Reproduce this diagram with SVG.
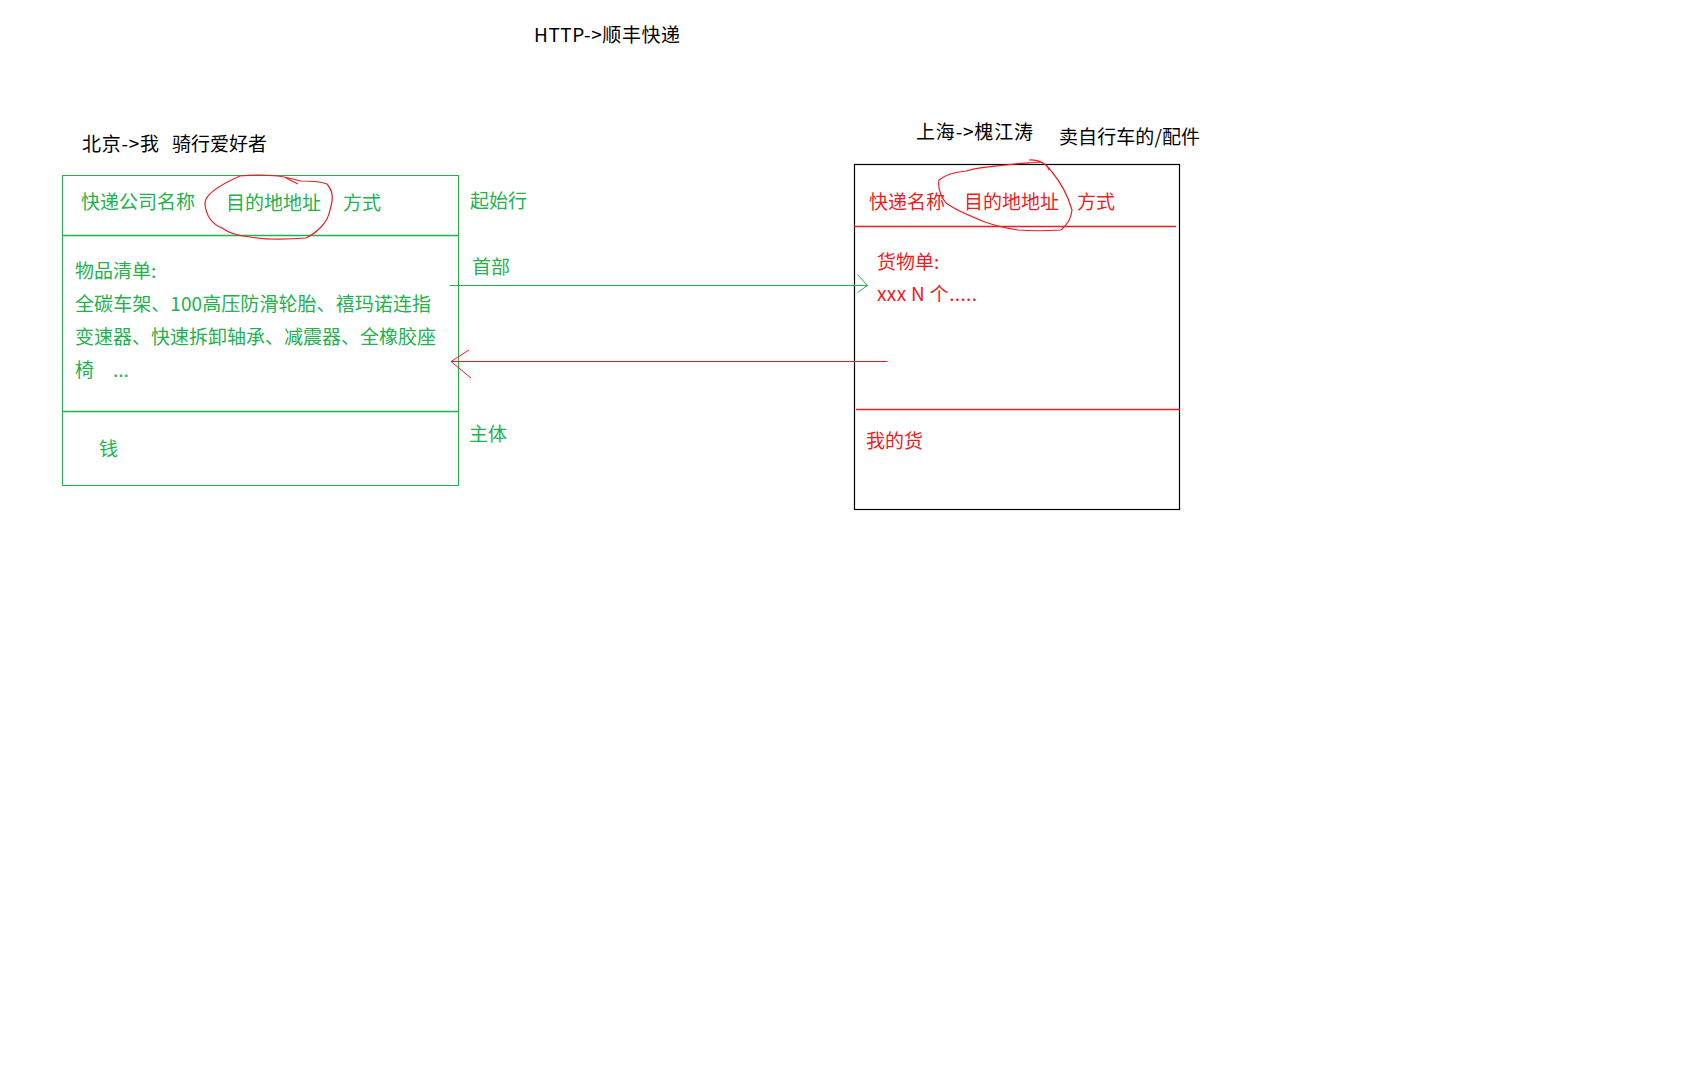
<svg xmlns="http://www.w3.org/2000/svg" width="1698" height="1090" viewBox="0 0 1698 1090">
<style>
text{font-family:"Noto Sans CJK SC","Microsoft YaHei",sans-serif;font-size:19px}
.k{fill:#000}
.g{fill:#22b14c}
.r{fill:#ed1c24}
.gs{stroke:#22b14c;fill:none}
.rs{stroke:#ed1c24;fill:none}
</style>
<rect width="1698" height="1090" fill="#fff"/>
<g id="title"><text class="k" x="534" y="42" textLength="146">HTTP-&gt;顺丰快递</text></g>
<g id="beijing"><text class="k" x="82" y="151" textLength="77">北京-&gt;我</text>
<text class="k" x="172" y="151">骑行爱好者</text></g>
<g id="shanghai"><text class="k" x="916" y="139" textLength="117">上海-&gt;槐江涛</text>
<text class="k" x="1059" y="144" textLength="141">卖自行车的/配件</text></g>
<g id="left-box">
<rect x="62.5" y="175.5" width="396" height="310" class="gs" stroke-width="1"/>
<line x1="62" y1="235.5" x2="459" y2="235.5" class="gs" stroke-width="1.5"/>
<line x1="62" y1="411.5" x2="459" y2="411.5" class="gs" stroke-width="1.5"/>
<text class="g" x="81" y="209">快递公司名称</text>
<text class="g" x="226" y="210">目的地地址</text>
<text class="g" x="343" y="210">方式</text>
<path class="rs" stroke-width="1.2" d="M240,176 C222,184 204,194 205,204 C206,215 212,224 222,228 C230,234 240,236 250,237 C262,239 280,240 306,238 C318,232 328,222 330,210 C333,200 334,192 327,184 C320,181 310,181 301,181 C292,179 286,177 278,176 C268,175 250,175 240,176 Z"/>
<path class="rs" stroke-width="1.2" d="M286,178 L298,184"/>
<text class="g" x="75" y="278">物品清单:</text>
<text class="g" x="75" y="311" textLength="356">全碳车架、100高压防滑轮胎、禧玛诺连指</text>
<text class="g" x="75" y="344" textLength="361">变速器、快速拆卸轴承、减震器、全橡胶座</text>
<text class="g" x="75" y="377">椅</text>
<text class="g" x="113" y="377">...</text>
<text class="g" x="99" y="456">钱</text>
</g>
<g id="left-labels">
<text class="g" x="470" y="208">起始行</text>
<text class="g" x="472" y="274">首部</text>
<text class="g" x="469" y="441">主体</text>
</g>
<g id="right-box">
<rect x="854.5" y="164.5" width="325" height="345" fill="none" stroke="#000" stroke-width="1.2"/>
<line x1="854" y1="226.5" x2="1176" y2="226.5" class="rs" stroke-width="1.5"/>
<line x1="856" y1="409.5" x2="1180" y2="409.5" class="rs" stroke-width="1.5"/>
<text class="r" x="869" y="209">快递名称</text>
<text class="r" x="964" y="209">目的地地址</text>
<text class="r" x="1077" y="209">方式</text>
<path class="rs" stroke-width="1.2" d="M1029,160 C1040,159 1046,164 1052,172 C1062,184 1068,196 1072,210 C1071,220 1066,226 1061,230 C1045,231 1030,231 1018,230 C1005,228 996,226 985,222 C970,216 955,210 946,203 C940,195 938,186 939,180 C945,175 955,172 966,171 C980,167 994,166 1006,165 C1020,163 1032,163 1040,162 C1045,163 1048,167 1049,170"/>
<text class="r" x="877" y="269">货物单:</text>
<text class="r" x="877" y="301" textLength="100">xxx N 个.....</text>
<text class="r" x="866" y="448">我的货</text>
</g>
<g id="connectors">
<line x1="449.5" y1="285.5" x2="867.5" y2="285.5" class="gs" stroke-width="1"/>
<polyline points="857.5,274.5 867.5,285.5 857.5,292.5" class="gs" stroke-width="1"/>
<line x1="887.5" y1="361.5" x2="451" y2="361.5" class="rs" stroke-width="1"/>
<polyline points="469,350 451,361.5 471,378" class="rs" stroke-width="1"/>
</g>
</svg>
